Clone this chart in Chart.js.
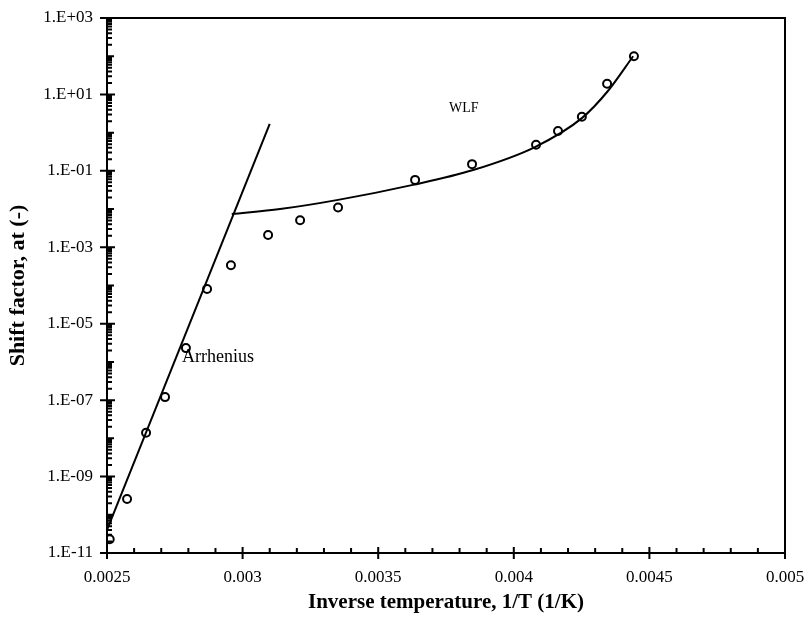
<!DOCTYPE html>
<html>
<head>
<meta charset="utf-8">
<title>Shift factor vs inverse temperature</title>
<script src="https://cdn.jsdelivr.net/npm/chart.js@4.4.1/dist/chart.umd.min.js"></script>
<style>
    html, body { margin: 0; padding: 0; background: #fff; }
    #wrap { width: 808px; height: 625px; }
</style>
</head>
<body>
<div id="wrap"><canvas id="shiftChart"></canvas></div>
<script>
// Measured shift factors
const invTemp = [0.00251, 0.002574, 0.002644, 0.002714, 0.002791, 0.002869, 0.002957, 0.003094,
    0.003212, 0.003352, 0.003636, 0.003846, 0.004082, 0.004163, 0.004251, 0.004344, 0.004443];
const shiftFactor = [2.3e-11, 2.6e-10, 1.4e-8, 1.2e-7, 2.3e-6, 8.1e-5, 3.4e-4, 2.1e-3,
    5.1e-3, 1.1e-2, 5.8e-2, 0.15, 0.48, 1.1, 2.6, 19, 100];

// Arrhenius fit (straight on log axis)
const arrX = [0.0025, 0.0031];
const arrY = [4.0e-11, 1.7];

// WLF fit
const wlfX = [0.00296, 0.003138, 0.003352, 0.003628, 0.00385, 0.004078, 0.004251, 0.004347, 0.00444];
const wlfY = [7.4e-3, 1.0e-2, 1.74e-2, 4.3e-2, 0.105, 0.42, 2.4, 12.3, 100];

// Axis ranges / ticks
const xMin = 0.0025, xMax = 0.005, xStep = 0.0001, xLabelEvery = 5;
const yMinExp = -11, yMaxExp = 3;

const toPoints = (xs, ys) => xs.map((x, i) => ({ x: x, y: ys[i] }));

const serif = "'Liberation Serif', 'DejaVu Serif', serif";

// Frame, tick marks and text labels
const framePlugin = {
    id: 'frame',
    afterDraw(chart) {
        const ctx = chart.ctx;
        const a = chart.chartArea;
        const xs = chart.scales.x, ys = chart.scales.y;
        ctx.save();
        ctx.strokeStyle = '#000';
        ctx.lineWidth = 2;
        ctx.strokeRect(a.left, a.top, a.right - a.left, a.bottom - a.top);

        ctx.beginPath();
        xs.ticks.forEach(t => {
            const px = xs.getPixelForValue(t.value);
            if (t.label) {
                ctx.moveTo(px, a.bottom - 6);
                ctx.lineTo(px, a.bottom + 6);
            } else {
                ctx.moveTo(px, a.bottom - 5);
                ctx.lineTo(px, a.bottom);
            }
        });
        ys.ticks.forEach(t => {
            const py = ys.getPixelForValue(t.value);
            const exp = Math.log10(t.value);
            if (t.label) {
                ctx.moveTo(a.left - 7, py);
                ctx.lineTo(a.left + 8, py);
            } else if (Math.abs(exp - Math.round(exp)) < 1e-9) {
                ctx.moveTo(a.left, py);
                ctx.lineTo(a.left + 7, py);
            } else {
                ctx.moveTo(a.left, py);
                ctx.lineTo(a.left + 5, py);
            }
        });
        ctx.stroke();

        ctx.fillStyle = '#000';
        ctx.textBaseline = 'middle';
        ctx.font = '18px ' + serif;
        ctx.fillText('Arrhenius', xs.getPixelForValue(0.002777), ys.getPixelForValue(1.3e-6));
        ctx.font = '14px ' + serif;
        ctx.fillText('WLF', xs.getPixelForValue(0.003761), ys.getPixelForValue(4.4));
        ctx.restore();
    }
};

new Chart(document.getElementById('shiftChart'), {
    type: 'scatter',
    data: {
        datasets: [{
            label: 'Arrhenius',
            data: toPoints(arrX, arrY),
            showLine: true,
            borderColor: '#000',
            borderWidth: 2,
            pointRadius: 0
        }, {
            label: 'WLF',
            data: toPoints(wlfX, wlfY),
            showLine: true,
            borderColor: '#000',
            borderWidth: 2,
            pointRadius: 0,
            cubicInterpolationMode: 'monotone'
        }, {
            label: 'Measured',
            data: toPoints(invTemp, shiftFactor),
            showLine: false,
            borderColor: '#000',
            backgroundColor: '#fff',
            borderWidth: 2,
            pointRadius: 4
        }]
    },
    options: {
        responsive: true,
        maintainAspectRatio: false,
        animation: false,
        layout: { padding: { top: 18, right: 23, left: 0, bottom: 0 } },
        plugins: {
            legend: { display: false },
            tooltip: { enabled: false }
        },
        scales: {
            x: {
                type: 'linear',
                min: xMin,
                max: xMax,
                afterFit: s => {
                    s.height = 72;
                    s.paddingLeft = 0;
                    s.paddingRight = 0;
                },
                afterBuildTicks: s => {
                    const ticks = [];
                    const n = Math.round((xMax - xMin) / xStep);
                    for (let i = 0; i <= n; i++) ticks.push({ value: xMin + i * xStep });
                    s.ticks = ticks;
                },
                grid: { display: false, drawTicks: false },
                border: { display: false },
                ticks: {
                    autoSkip: false,
                    maxRotation: 0,
                    padding: 14,
                    color: '#000',
                    font: { family: serif, size: 17 },
                    callback: v => Math.round(v / xStep) % xLabelEvery === 0 ? String(parseFloat(v.toFixed(4))) : ''
                },
                title: {
                    display: true,
                    text: 'Inverse temperature, 1/T (1/K)',
                    color: '#000',
                    font: { family: serif, size: 21, weight: 'bold' },
                    padding: { top: 0, bottom: 10 }
                }
            },
            y: {
                type: 'logarithmic',
                min: Math.pow(10, yMinExp),
                max: Math.pow(10, yMaxExp),
                afterFit: s => {
                    s.width = 107;
                    s.paddingTop = 0;
                    s.paddingBottom = 0;
                },
                afterBuildTicks: s => {
                    const ticks = [];
                    for (let e = yMinExp; e <= yMaxExp; e++) {
                        ticks.push({ value: Math.pow(10, e) });
                        if (e < yMaxExp) {
                            for (let m = 2; m <= 9; m++) ticks.push({ value: m * Math.pow(10, e) });
                        }
                    }
                    s.ticks = ticks;
                },
                grid: { display: false, drawTicks: false },
                border: { display: false },
                ticks: {
                    autoSkip: false,
                    padding: 14,
                    color: '#000',
                    font: { family: serif, size: 17 },
                    callback: v => {
                        const e = Math.log10(v);
                        const r = Math.round(e);
                        if (Math.abs(e - r) > 1e-9 || Math.abs(r) % 2 !== 1) return '';
                        const mag = String(Math.abs(r)).padStart(2, '0');
                        return '1.E' + (r < 0 ? '-' : '+') + mag;
                    }
                },
                title: {
                    display: true,
                    text: 'Shift factor, at (-)',
                    color: '#000',
                    font: { family: serif, size: 22, weight: 'bold' },
                    padding: { top: 5, bottom: 0 }
                }
            }
        }
    },
    plugins: [framePlugin]
});
</script>
</body>
</html>
